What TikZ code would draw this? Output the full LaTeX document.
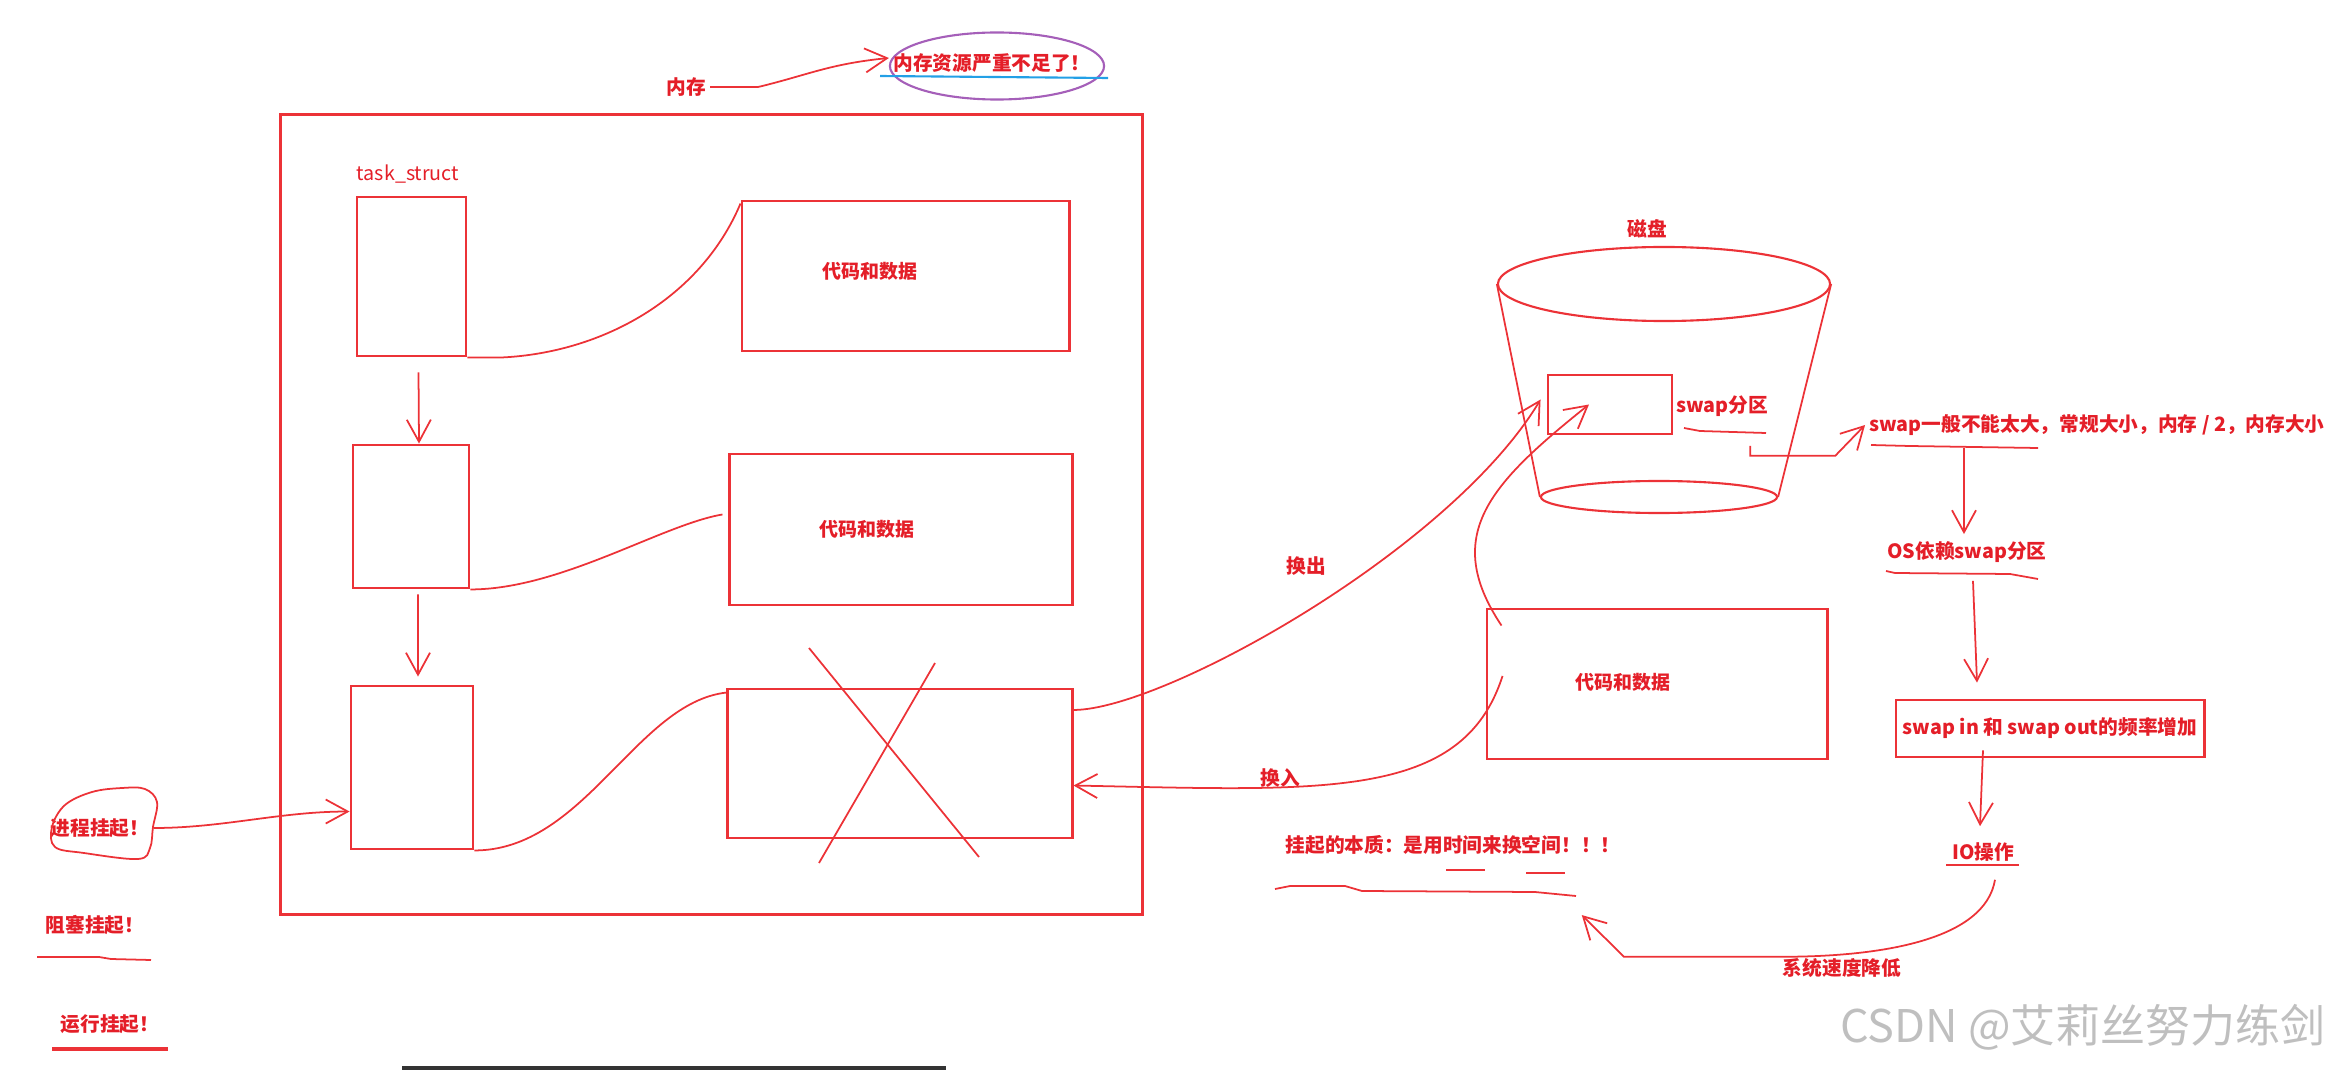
\documentclass[tikz,border=0pt]{standalone}
\usepackage{fontspec}
\setmainfont{Noto Sans CJK SC}
\usetikzlibrary{arrows.meta,shapes.geometric,calc}
\definecolor{pen}{RGB}{236,50,55}
\definecolor{inkred}{RGB}{228,30,40}
\definecolor{lilac}{RGB}{165,95,185}
\definecolor{sky}{RGB}{35,160,230}
\begin{document}
\begin{tikzpicture}[x=0.01cm,y=-0.01cm,line width=0.5pt,
  box/.style={draw=pen,line width=0.8pt,inner sep=0pt},
  lbl/.style={text=inkred,font=\fontsize{5.6}{6.5}\selectfont\bfseries,inner sep=1pt},
  small/.style={lbl,font=\fontsize{5.4}{6.2}\selectfont\bfseries},
  wire/.style={draw=pen,line width=0.5pt},
  arr/.style={wire,-{Straight Barb[length=0.22cm,width=0.24cm]}}]
\useasboundingbox (0,0) rectangle (2335,1070);
\node[box,minimum width=8.61cm,minimum height=7.99cm] (mem) at (711.5,514.5) {};
\node[box,minimum width=1.09cm,minimum height=1.59cm] (pcbA) at (411.5,276.5) {};
\node[box,minimum width=1.16cm,minimum height=1.43cm] (pcbB) at (411,516.5) {};
\node[box,minimum width=1.22cm,minimum height=1.63cm] (pcbC) at (412,767.5) {};
\node[box,minimum width=3.27cm,minimum height=1.50cm] (codeA) at (905.5,276) {};
\node[box,minimum width=3.42cm,minimum height=1.51cm] (codeB) at (901,529.5) {};
\node[box,minimum width=3.44cm,minimum height=1.49cm] (codeC) at (900,763.5) {};
\node[box,minimum width=3.40cm,minimum height=1.50cm] (codeD) at (1657,684) {};
\node[box,minimum width=1.24cm,minimum height=0.59cm] (swapbox) at (1610,404.5) {};
\node[box,lbl,minimum width=3.08cm,minimum height=0.57cm] (freqbox) at (2050,728.5) {swap in 和 swap out的频率增加};
\node[small] (txtA) at (870,271) {代码和数据};
\node[small] (txtB) at (867,529) {代码和数据};
\node[small] (txtD) at (1623,682) {代码和数据};
\node[lbl,font=\fontsize{5.6}{6.5}\selectfont] (tasklbl) at (408,174) {task\_struct};
\node[lbl] (memlbl) at (686,87) {内存};
\node[draw=lilac,ellipse,line width=0.6pt,minimum width=2.14cm,minimum height=0.67cm,inner sep=0pt] (ring) at (997,66) {};
\node[lbl] (shortage) at (992,63) {内存资源严重不足了！};
\node[lbl] (procsusp) at (100,828) {进程挂起！};
\node[lbl] (blocksusp) at (95,925) {阻塞挂起！};
\node[lbl] (runsusp) at (110,1024) {运行挂起！};
\node[lbl] (disklbl) at (1647,229) {磁盘};
\node[lbl] (swaplbl) at (1722,406) {swap分区};
\node[lbl] (swapnote) at (2097,425) {swap一般不能太大，常规大小，内存 / 2，内存大小};
\node[lbl] (osdep) at (1967,552) {OS依赖swap分区};
\node[lbl] (io) at (1983,852) {IO操作};
\node[lbl] (slow) at (1842,968) {系统速度降低};
\node[lbl] (essence) at (1453,845) {挂起的本质：是用时间来换空间！！！};
\node[lbl] (outlbl) at (1306,566) {换出};
\node[lbl] (inlbl) at (1280,778) {换入};
\node[text=black!25,font=\fontsize{12.8}{14}\selectfont] (mark) at (2083,1027) {CSDN @艾莉丝努力练剑};
\node[draw=pen,ellipse,line width=0.6pt,minimum width=3.32cm,minimum height=0.74cm,inner sep=0pt] (disktop) at (1664,284) {};
\node[draw=pen,ellipse,line width=0.6pt,minimum width=2.36cm,minimum height=0.32cm,inner sep=0pt] (diskbot) at (1659,497) {};
\draw[wire] (disktop.west) -- (diskbot.west);
\draw[wire] (disktop.east) -- (diskbot.east);
\draw[sky,line width=0.6pt] (880,76) -- (1108,78);
\draw[wire] (809,648) -- (979,857);
\draw[wire] (935,663) -- (819,863);
\draw[wire] plot[smooth cycle,tension=0.6] coordinates {(122,788) (92,792) (65,805) (52,827) (55,847) (84,853) (138,859) (150,848) (153,827) (157,802) (145,789)};
\draw[wire] (37,957) -- (99,957) -- (111,959) -- (151,960);
\draw[wire,line width=0.9pt] (52,1049) -- (168,1049);
\draw[wire] (1684,428) -- (1700,431) -- (1766,433);
\draw[wire] (1871,445) -- (1910,446) -- (2038,448);
\draw[wire] (1886,571) -- (1895,573) -- (2010,574) -- (2038,579);
\draw[wire] (1946,865) -- (2019,865);
\draw[wire] (1446,870) -- (1485,870);
\draw[wire] (1526,873) -- (1565,873);
\draw[wire] (1275,889) -- (1290,886) -- (1345,886) -- (1362,891) -- (1535,892) -- (1576,896);
\draw[line width=1.2pt,black!80] (402,1068) -- (946,1068);
\draw[arr] (memlbl.east) -- ++(48,0) .. controls +(50,-12) and +(-60,6) .. ([yshift=0.08cm]ring.west);
\draw[wire] (pcbA.south east) -- ++(35,0) .. controls +(100,-5) and +(-40,95) .. ([yshift=-0.04cm]codeA.north west);
\draw[wire] (pcbB.south east) .. controls +(90,0) and +(-60,10) .. ([xshift=-0.06cm,yshift=0.15cm]codeB.west);
\draw[wire] (pcbC.south east) .. controls +(110,0) and +(-90,10) .. ([yshift=-0.05cm]codeC.north west);
\draw[arr] ([xshift=0.07cm,yshift=-0.15cm]pcbA.south) -- ([xshift=0.08cm]pcbB.north);
\draw[arr] ([xshift=0.07cm,yshift=-0.05cm]pcbB.south) -- ([xshift=0.06cm,yshift=0.08cm]pcbC.north);
\draw[arr] (procsusp.east) .. controls +(70,0) and +(-70,0) .. ([yshift=-0.44cm]pcbC.west);
\draw[arr] ([yshift=0.535cm]codeC.east) .. controls +(90,0) and +(-90,150) .. ([xshift=-0.06cm,yshift=0.05cm]swapbox.west);
\draw[arr] ([xshift=0.16cm,yshift=-0.18cm]codeD.north west) .. controls +(-60,-90) and +(-100,80) .. ([xshift=-0.21cm]swapbox.center);
\draw[arr] ([xshift=0.17cm,yshift=0.08cm]codeD.west) .. controls +(-40,125) and +(250,5) .. ([yshift=-0.22cm]codeC.east);
\draw[arr] ([xshift=-0.22cm,yshift=-0.25cm]swaplbl.south east) |- ++(85,10) -- (swapnote.west);
\draw[arr] ($(osdep.north |- swapnote.south)+(-3,8)$) -- ($(osdep.north)+(-3,-3)$);
\draw[arr] ($(osdep.south)+(6,14)$) -- ($(osdep.south |- freqbox.north)+(10,-16)$);
\draw[arr] ($(io.north |- freqbox.south)+(0,-8)$) -- ($(io.north)+(-3,-12)$);
\draw[arr] ($(io.south)+(12,14)$) .. controls +(-10,60) and +(100,0) .. ++(-213,77) -- ++(-158,0) -- ([xshift=-0.43cm,yshift=-0.56cm]essence.south east);
\end{tikzpicture}
\end{document}
